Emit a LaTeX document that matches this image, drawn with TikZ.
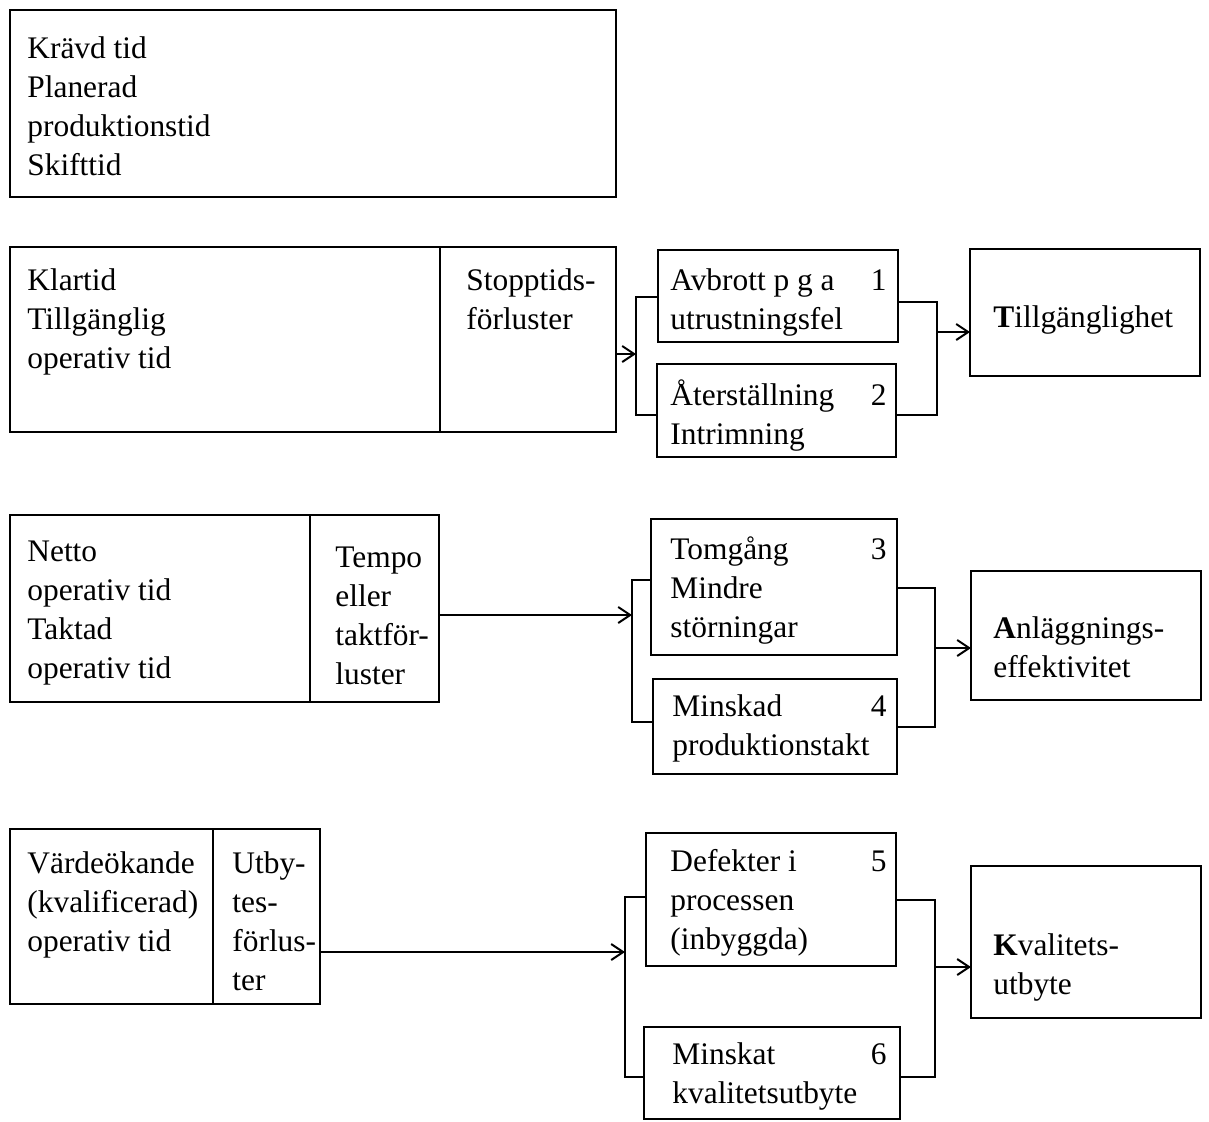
\documentclass[tikz,border=0pt]{standalone}
\usepackage{fontspec}
\setmainfont{Liberation Serif}
\usetikzlibrary{arrows.meta}
\begin{document}
\begin{tikzpicture}[x=0.5pt,y=-0.5pt,
  box/.style={draw, line width=1.3pt, inner sep=0pt, outer sep=0pt, anchor=north west},
  lbl/.style={anchor=base west, inner sep=0pt, font=\fontsize{15.7}{19.5}\selectfont},
  num/.style={anchor=base east, inner sep=0pt, font=\fontsize{15.7}{19.5}\selectfont},
  link/.style={line width=1pt},
  arr/.style={line width=1pt, -{Straight Barb[length=6pt,width=8pt,line width=1pt]}}]
\useasboundingbox[fill=white] (0,0) rectangle (1209,1121);

% box: name, left, top, width, height (in pixels of the layout grid)
\newcommand{\bx}[5]{\node[box, minimum width=#4*0.5pt, minimum height=#5*0.5pt] (#1) at (#2,#3) {};}
% stacked text lines: name, x, first baseline, list of lines
\newcommand{\txt}[4]{\foreach \l [count=\i] in {#4} \node[lbl] (#1-\i) at (#2,#3+39*\i-39) {\l};}

% ---- time boxes ----
\bx{A}{10}{10}{606}{187}
\txt{a}{27}{58}{Krävd tid,Planerad,produktionstid,Skifttid}

\bx{B}{10}{247}{606}{185}
\draw[line width=1.3pt] (440,0 |- B.north) -- (440,0 |- B.south);
\txt{b}{27}{290}{Klartid,Tillgänglig,operativ tid}
\txt{bs}{466}{290}{Stopptids-,förluster}

\bx{C}{10}{515}{429}{187}
\draw[line width=1.3pt] (310,0 |- C.north) -- (310,0 |- C.south);
\txt{c}{27}{561}{Netto,operativ tid,Taktad,operativ tid}
\txt{cs}{335}{567}{Tempo,eller,taktför-,luster}

\bx{D}{10}{829}{310}{175}
\draw[line width=1.3pt] (213,0 |- D.north) -- (213,0 |- D.south);
\txt{d}{27}{873}{Värdeökande,(kvalificerad),operativ tid}
\txt{ds}{232}{873}{Utby-,tes-,förlus-,ter}

% ---- loss boxes ----
\bx{L1}{658}{250}{240}{92}
\txt{l1}{670}{290}{Avbrott p g a,utrustningsfel}
\node[num] (n1) at (887,290) {1};

\bx{L2}{657}{364}{239}{93}
\txt{l2}{670}{405}{Återställning,Intrimning}
\node[num] (n2) at (887,405) {2};

\bx{L3}{651}{519}{246}{136}
\txt{l3}{670}{559}{Tomgång,Mindre,störningar}
\node[num] (n3) at (887,559) {3};

\bx{L4}{653}{679}{244}{95}
\txt{l4}{672}{716}{Minskad,produktionstakt}
\node[num] (n4) at (887,716) {4};

\bx{L5}{646}{833}{250}{133}
\txt{l5}{670}{871}{Defekter i,processen,(inbyggda)}
\node[num] (n5) at (887,871) {5};

\bx{L6}{644}{1027}{256}{92}
\txt{l6}{672}{1064}{Minskat,kvalitetsutbyte}
\node[num] (n6) at (887,1064) {6};

% ---- result boxes ----
\bx{T}{970}{249}{230}{127}
\txt{t}{993}{327}{{\textbf{T}illgänglighet}}

\bx{E}{971}{571}{230}{129}
\txt{e}{993}{638}{{\textbf{A}nläggnings-},effektivitet}

\bx{K}{971}{866}{230}{152}
\txt{k}{993}{955}{{\textbf{K}valitets-},utbyte}

% ---- connectors, row 1 ----
\coordinate (j1) at (636,354);
\draw[arr] (B.east |- j1) -- (j1);
\draw[link] (L1.west |- 0,297) -- (636,297) -- (636,415) -- (L2.west |- 0,415);
\draw[link] (L1.east |- 0,302) -- (937,302) -- (937,415) -- (L2.east |- 0,415);
\coordinate (k1) at (937,332);
\draw[arr] (k1) -- (T.west |- k1);

% ---- connectors, row 2 ----
\coordinate (j2) at (632,615);
\draw[arr] (C.east |- j2) -- (j2);
\draw[link] (L3.west |- 0,580) -- (632,580) -- (632,722) -- (L4.west |- 0,722);
\draw[link] (L3.east |- 0,588) -- (935,588) -- (935,727) -- (L4.east |- 0,727);
\coordinate (k2) at (935,648);
\draw[arr] (k2) -- (E.west |- k2);

% ---- connectors, row 3 ----
\coordinate (j3) at (625,952);
\draw[arr] (D.east |- j3) -- (j3);
\draw[link] (L5.west |- 0,897) -- (625,897) -- (625,1077) -- (L6.west |- 0,1077);
\draw[link] (L5.east |- 0,900) -- (935,900) -- (935,1077) -- (L6.east |- 0,1077);
\coordinate (k3) at (935,967);
\draw[arr] (k3) -- (K.west |- k3);
\end{tikzpicture}
\end{document}
